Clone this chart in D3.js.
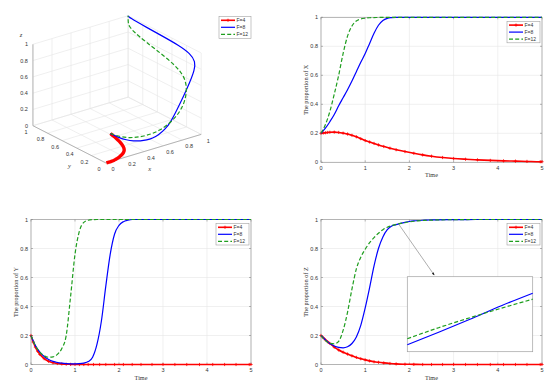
<!DOCTYPE html>
<html>
<head>
<meta charset="utf-8">
<script src="https://cdn.jsdelivr.net/npm/d3@7"></script>
<style>
  body { margin: 0; background: #fff; }
  svg { display: block; }
  text { font-family: "Liberation Sans", Arial, sans-serif; fill: #333; }
</style>
</head>
<body>
<svg id="chart" width="550" height="387"></svg>
<script>
// ---- data ----
var series = ["F=4", "F=8", "F=12"];
var seriesColors = ["#ff0000", "#0000ff", "#1f9e1f"];

// time grid of the F=4 run (marker positions)
var timeF4 = [0, 0.05, 0.1, 0.15, 0.2, 0.3, 0.4, 0.5, 0.6, 0.7, 0.8, 0.9, 1.0, 1.1, 1.2, 1.3,
  1.42, 1.56, 1.7, 1.9, 2.1, 2.3, 2.5, 2.75, 3.0, 3.27, 3.54, 3.83, 4.13, 4.4, 4.66, 4.96, 5.0];
var xF4 = [0.2, 0.202, 0.204, 0.206, 0.207, 0.208, 0.206, 0.201, 0.195, 0.186, 0.176, 0.163, 0.15, 0.14, 0.13, 0.12,
  0.109, 0.097, 0.087, 0.074, 0.062, 0.051, 0.042, 0.033, 0.026, 0.021, 0.017, 0.013, 0.01, 0.008, 0.006, 0.004, 0.004];
var yF4 = [0.2, 0.155, 0.12, 0.092, 0.07, 0.04, 0.022, 0.012, 0.007, 0.004, 0.002, 0.001, 0, 0, 0, 0,
  0, 0, 0, 0, 0, 0, 0, 0, 0, 0, 0, 0, 0, 0, 0, 0, 0];
var zF4 = [0.2, 0.185, 0.17, 0.157, 0.145, 0.12, 0.1, 0.085, 0.072, 0.06, 0.049, 0.04, 0.032, 0.025, 0.019, 0.015,
  0.011, 0.007, 0.004, 0.002, 0.001, 0, 0, 0, 0, 0, 0, 0, 0, 0, 0, 0, 0];

// time grid of the F=8 and F=12 runs
var time = [0, 0.1, 0.2, 0.3, 0.4, 0.5, 0.6, 0.7, 0.8, 0.9, 1.0, 1.1, 1.2, 1.3, 1.4, 1.5, 1.6, 1.7, 1.8, 1.9,
  2.0, 2.1, 2.2, 2.3, 2.4, 2.5, 3.0, 3.5, 4.0, 4.5, 5.0];
var xF8 = [0.2, 0.235, 0.28, 0.33, 0.39, 0.445, 0.5, 0.56, 0.625, 0.69, 0.75, 0.82, 0.89, 0.945, 0.978, 0.993, 0.998, 1, 1, 1,
  1, 1, 1, 1, 1, 1, 1, 1, 1, 1, 1];
var yF8 = [0.2, 0.13, 0.085, 0.055, 0.035, 0.022, 0.014, 0.009, 0.006, 0.005, 0.005, 0.006, 0.01, 0.02, 0.05, 0.14, 0.3, 0.54, 0.76, 0.9,
  0.96, 0.985, 0.995, 1, 1, 1, 1, 1, 1, 1, 1];
var zF8 = [0.2, 0.17, 0.145, 0.128, 0.118, 0.115, 0.122, 0.145, 0.19, 0.27, 0.39, 0.53, 0.68, 0.8, 0.88, 0.93, 0.955, 0.965, 0.973, 0.98,
  0.986, 0.99, 0.993, 0.995, 0.996, 0.997, 0.999, 1, 1, 1, 1];
var xF12 = [0.2, 0.26, 0.35, 0.47, 0.6, 0.75, 0.87, 0.94, 0.975, 0.988, 0.994, 0.997, 0.998, 0.999, 1, 1, 1, 1, 1, 1,
  1, 1, 1, 1, 1, 1, 1, 1, 1, 1, 1];
var yF12 = [0.2, 0.13, 0.085, 0.06, 0.05, 0.053, 0.07, 0.11, 0.2, 0.47, 0.76, 0.92, 0.98, 0.995, 0.999, 1, 1, 1, 1, 1,
  1, 1, 1, 1, 1, 1, 1, 1, 1, 1, 1];
var zF12 = [0.2, 0.165, 0.146, 0.142, 0.16, 0.235, 0.36, 0.52, 0.66, 0.74, 0.795, 0.84, 0.875, 0.905, 0.93, 0.947, 0.958, 0.966, 0.973, 0.979,
  0.984, 0.988, 0.991, 0.993, 0.995, 0.996, 0.999, 1, 1, 1, 1];

// zoomed inset of Z around t = 1.75
var insetTime = [1.70, 1.725, 1.75, 1.775, 1.80];
var insetZF8 = [0.9614, 0.9639, 0.9665, 0.9692, 0.9717];
var insetZF12 = [0.9626, 0.9648, 0.9668, 0.9687, 0.9705];
var zoomPoint = [1.76, 0.967];

var timeTicks = [0, 1, 2, 3, 4, 5];
var propTicks = [0, 0.2, 0.4, 0.6, 0.8, 1];
var cubeTicks = [0, 0.2, 0.4, 0.6, 0.8, 1];

// ---- helpers ----
var svg = d3.select("#chart");
svg.append("rect").attr("width", 550).attr("height", 387).attr("fill", "#fff");

var runs = [
  { t: timeF4, x: xF4, y: yF4, z: zF4 },
  { t: time, x: xF8, y: yF8, z: zF8 },
  { t: time, x: xF12, y: yF12, z: zF12 }
];

function fmt(v) { return v === 0 ? "0" : v === 1 ? "1" : String(v); }

function plusMarker(sel, color) {
  sel.append("path")
    .attr("d", "M-1.6,0H1.6M0,-1.6V1.6")
    .attr("stroke", color).attr("stroke-width", 0.8).attr("fill", "none");
}

function styleLine(sel, i) {
  sel.attr("fill", "none").attr("stroke", seriesColors[i])
    .attr("stroke-width", i === 0 ? 1.6 : 1.2)
    .attr("stroke-dasharray", i === 2 ? "4,2.2" : null)
    .attr("stroke-linejoin", "round");
}

function drawLegend(g, x0, y0, w, h) {
  var lg = g.append("g").attr("transform", "translate(" + x0 + "," + y0 + ")");
  lg.append("rect").attr("width", w).attr("height", h)
    .attr("fill", "#fff").attr("stroke", "#a0a0a0").attr("stroke-width", 0.6);
  series.forEach(function(name, i) {
    var yy = 3.8 + i * 7;
    lg.append("line").attr("x1", 2).attr("x2", 16).attr("y1", yy).attr("y2", yy)
      .call(styleLine, i);
    if (i === 0) plusMarker(lg.append("g").attr("transform", "translate(9," + yy + ")"), seriesColors[0]);
    lg.append("text").attr("x", 17.5).attr("y", yy + 1.8)
      .style("font-size", "5px").text(name);
  });
}

// 2D panel: one state variable against time
function drawPanel(p) {
  var g = svg.append("g");
  var xs = d3.scaleLinear().domain([0, 5]).range([p.left, p.right]);
  var ys = d3.scaleLinear().domain([0, 1]).range([p.bottom, p.top]);

  // grid
  g.selectAll(".vg").data(timeTicks).enter().append("line")
    .attr("x1", d => xs(d)).attr("x2", d => xs(d)).attr("y1", p.top).attr("y2", p.bottom)
    .attr("stroke", "#e6e6e6").attr("stroke-width", 0.6);
  g.selectAll(".hg").data(propTicks).enter().append("line")
    .attr("y1", d => ys(d)).attr("y2", d => ys(d)).attr("x1", p.left).attr("x2", p.right)
    .attr("stroke", "#e6e6e6").attr("stroke-width", 0.6);

  // box
  g.append("rect").attr("x", p.left).attr("y", p.top)
    .attr("width", p.right - p.left).attr("height", p.bottom - p.top)
    .attr("fill", "none").attr("stroke", "#9a9a9a").attr("stroke-width", 0.7);

  // ticks + labels
  timeTicks.forEach(function(d) {
    g.append("line").attr("x1", xs(d)).attr("x2", xs(d)).attr("y1", p.bottom).attr("y2", p.bottom - 2)
      .attr("stroke", "#888").attr("stroke-width", 0.6);
    g.append("line").attr("x1", xs(d)).attr("x2", xs(d)).attr("y1", p.top).attr("y2", p.top + 2)
      .attr("stroke", "#888").attr("stroke-width", 0.6);
    g.append("text").attr("x", xs(d)).attr("y", p.bottom + 7.5)
      .attr("text-anchor", "middle").style("font-size", "5.5px").text(fmt(d));
  });
  propTicks.forEach(function(d) {
    g.append("line").attr("x1", p.left).attr("x2", p.left + 2).attr("y1", ys(d)).attr("y2", ys(d))
      .attr("stroke", "#888").attr("stroke-width", 0.6);
    g.append("line").attr("x1", p.right).attr("x2", p.right - 2).attr("y1", ys(d)).attr("y2", ys(d))
      .attr("stroke", "#888").attr("stroke-width", 0.6);
    g.append("text").attr("x", p.left - 3).attr("y", ys(d) + 2)
      .attr("text-anchor", "end").style("font-size", "5.5px").text(fmt(d));
  });

  // axis titles
  g.append("text").attr("x", (p.left + p.right) / 2).attr("y", p.bottom + 15)
    .attr("text-anchor", "middle")
    .style("font-family", "'Liberation Serif', 'Times New Roman', serif").style("font-size", "6.2px")
    .text("Time");
  g.append("text")
    .attr("transform", "translate(" + (p.left - 13) + "," + ((p.top + p.bottom) / 2) + ") rotate(-90)")
    .attr("text-anchor", "middle")
    .style("font-family", "'Liberation Serif', 'Times New Roman', serif").style("font-size", "6.2px")
    .text(p.ylabel);

  // curves
  var line = d3.line().curve(d3.curveMonotoneX);
  runs.forEach(function(r, i) {
    var pts = r.t.map((t, k) => [xs(t), ys(r[p.key][k])]);
    g.append("path").attr("d", line(pts)).call(styleLine, i);
    if (i === 0) {
      pts.forEach(function(q) {
        plusMarker(g.append("g").attr("transform", "translate(" + q[0] + "," + q[1] + ")"), seriesColors[0]);
      });
    }
  });

  drawLegend(g, p.right - 35, p.top + 4, 33, 21.5);
  return { g: g, xs: xs, ys: ys };
}

// ---- three time panels ----
drawPanel({ key: "x", left: 321, right: 542, top: 17.3, bottom: 162.3, ylabel: "The proportion of X" });
drawPanel({ key: "y", left: 31, right: 251, top: 219.5, bottom: 364.5, ylabel: "The proportion of Y" });
var pz = drawPanel({ key: "z", left: 321, right: 542, top: 219.5, bottom: 364.5, ylabel: "The proportion of Z" });

// inset on the Z panel
var inset = { left: 407.3, right: 532.7, top: 276.7, bottom: 351.7 };
var ix = d3.scaleLinear().domain([insetTime[0], insetTime[insetTime.length - 1]]).range([inset.left, inset.right]);
var iy = d3.scaleLinear().domain([0.96, 0.975]).range([inset.bottom, inset.top]);
pz.g.append("rect").attr("x", inset.left).attr("y", inset.top)
  .attr("width", inset.right - inset.left).attr("height", inset.bottom - inset.top)
  .attr("fill", "#fff").attr("stroke", "#a0a0a0").attr("stroke-width", 0.7);
var iline = d3.line().curve(d3.curveMonotoneX);
[insetZF8, insetZF12].forEach(function(vals, j) {
  pz.g.append("path")
    .attr("d", iline(insetTime.map((t, k) => [ix(t), iy(vals[k])])))
    .call(styleLine, j + 1);
});

// arrow from curve to inset
svg.append("defs").append("marker").attr("id", "ah")
  .attr("viewBox", "0 0 10 10").attr("refX", 9).attr("refY", 5)
  .attr("markerWidth", 5).attr("markerHeight", 5).attr("orient", "auto")
  .append("path").attr("d", "M0,1L10,5L0,9z").attr("fill", "#222");
pz.g.append("line")
  .attr("x1", pz.xs(zoomPoint[0])).attr("y1", pz.ys(zoomPoint[1]))
  .attr("x2", inset.left + 27).attr("y2", inset.top - 1.5)
  .attr("stroke", "#777").attr("stroke-width", 0.6).attr("marker-end", "url(#ah)");

// ---- 3D phase portrait (MATLAB default view az=-37.5, el=30) ----
var az = -37.5 * Math.PI / 180, el = 30 * Math.PI / 180;
var origin = [106, 163], sx = 120, sy = 94;
function proj(x, y, z) {
  var h = x * Math.cos(az) + y * Math.sin(az);
  var v = -x * Math.sin(az) * Math.sin(el) + y * Math.cos(az) * Math.sin(el) + z * Math.cos(el);
  return [origin[0] + sx * h, origin[1] - sy * v];
}
var g3 = svg.append("g");
function seg(a, b, color, w) {
  var p1 = proj.apply(null, a), p2 = proj.apply(null, b);
  g3.append("line").attr("x1", p1[0]).attr("y1", p1[1]).attr("x2", p2[0]).attr("y2", p2[1])
    .attr("stroke", color).attr("stroke-width", w);
}
var gridC = "#e4e4e4";
cubeTicks.forEach(function(c) {
  // floor z=0
  seg([c, 0, 0], [c, 1, 0], gridC, 0.6);
  seg([0, c, 0], [1, c, 0], gridC, 0.6);
  // back wall y=1
  seg([c, 1, 0], [c, 1, 1], gridC, 0.6);
  seg([0, 1, c], [1, 1, c], gridC, 0.6);
  // side wall x=1
  seg([1, c, 0], [1, c, 1], gridC, 0.6);
  seg([1, 0, c], [1, 1, c], gridC, 0.6);
});
// axis lines
seg([0, 0, 0], [1, 0, 0], "#9a9a9a", 0.7);
seg([0, 0, 0], [0, 1, 0], "#9a9a9a", 0.7);
seg([0, 1, 0], [0, 1, 1], "#9a9a9a", 0.7);

cubeTicks.forEach(function(c) {
  var pzl = proj(0, 1, c);
  g3.append("text").attr("x", pzl[0] - 5).attr("y", pzl[1] + 2)
    .attr("text-anchor", "end").style("font-size", "5.5px").text(fmt(c));
  var pyl = proj(0, c, 0);
  g3.append("text").attr("x", pyl[0] - 7).attr("y", pyl[1] + 8.3)
    .attr("text-anchor", "middle").style("font-size", "5.5px").text(fmt(c));
  var pxl = proj(c, 0, 0);
  g3.append("text").attr("x", pxl[0] + 7).attr("y", pxl[1] + 8.3)
    .attr("text-anchor", "middle").style("font-size", "5.5px").text(fmt(c));
});
var serifItalic = function(sel) {
  sel.style("font-family", "'Liberation Serif', 'Times New Roman', serif")
    .style("font-style", "italic").style("font-size", "6.5px").attr("text-anchor", "middle");
};
var pzLab = proj(0, 1, 1), pyLab = proj(0, 0.5, 0), pxLab = proj(0.5, 0, 0);
g3.append("text").attr("x", pzLab[0] - 12).attr("y", pzLab[1] - 7).call(serifItalic).text("z");
g3.append("text").attr("x", pyLab[0]).attr("y", pyLab[1] + 24).call(serifItalic).text("y");
g3.append("text").attr("x", pxLab[0] - 4).attr("y", pxLab[1] + 22).call(serifItalic).text("x");

var line3 = d3.line().curve(d3.curveBasis);
runs.forEach(function(r, i) {
  var pts = r.t.map((t, k) => proj(r.x[k], r.y[k], r.z[k]));
  var path = g3.append("path").attr("d", line3(pts)).call(styleLine, i);
  if (i === 0) path.attr("stroke-width", 3.4);
});
drawLegend(g3, 219, 16.5, 32, 22);
</script>
</body>
</html>
